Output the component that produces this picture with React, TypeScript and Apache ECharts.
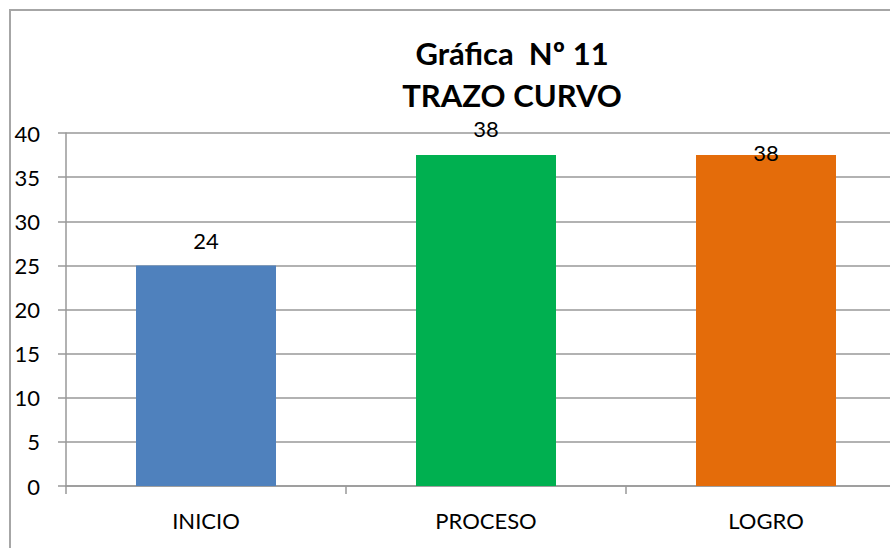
import React, { useEffect, useRef } from "react";
import * as echarts from "echarts";

const categories = ["INICIO", "PROCESO", "LOGRO"];
const values = [25, 37.5, 37.5];
const valueLabels = ["24", "38", "38"];
const barColors = ["#4F81BD", "#00B050", "#E46C0A"];
const labelDistances = [14, 16, -8];
const titleLines = ["Gráfica  Nº 11", "TRAZO CURVO"];

const FONT = "Lato, 'Open Sans', sans-serif";

export default function App() {
  const ref = useRef<HTMLDivElement>(null);
  useEffect(() => {
    document.body.style.margin = "0";
    const chart = echarts.init(ref.current!, null, { renderer: "svg" });
    chart.setOption({
      animation: false,
      backgroundColor: "#ffffff",
      textStyle: { fontFamily: FONT },
      title: {
        text: titleLines.join("\n"),
        left: 507,
        top: 27,
        textAlign: "center",
        textStyle: {
          fontFamily: FONT,
          fontSize: 31,
          fontWeight: "bold",
          color: "#000",
          lineHeight: 42,
        },
      },
      graphic: [
        {
          type: "rect",
          shape: { x: 10, y: 10, width: 1000, height: 1000 },
          style: { fill: "none", stroke: "#a6a6a6", lineWidth: 2 },
          silent: true,
        },
      ],
      grid: { left: 66, top: 133, width: 840, height: 353, containLabel: false },
      xAxis: {
        type: "category",
        data: categories,
        axisLine: { lineStyle: { color: "#999", width: 1.5 } },
        axisTick: { show: true, length: 8, alignWithLabel: false, lineStyle: { color: "#999", width: 1.5 } },
        axisLabel: { fontSize: 22, color: "#000", margin: 23, fontFamily: FONT },
      },
      yAxis: {
        type: "value",
        min: 0,
        max: 40,
        interval: 5,
        axisLine: { show: true, lineStyle: { color: "#999", width: 1.5 } },
        axisTick: { show: true, length: 8, lineStyle: { color: "#999", width: 1.5 } },
        axisLabel: { fontSize: 22, color: "#000", margin: 26, fontFamily: FONT },
        splitLine: { show: true, lineStyle: { color: "#999", width: 1.5 } },
      },
      series: [
        {
          type: "bar",
          barWidth: "50%",
          data: values.map((v, i) => ({
            value: v,
            itemStyle: { color: barColors[i] },
            label: {
              show: true,
              position: "top",
              distance: labelDistances[i],
              formatter: () => valueLabels[i],
              fontSize: 22,
              color: "#000",
              fontFamily: FONT,
            },
          })),
        },
      ],
    });
    return () => chart.dispose();
  }, []);
  return (
    <div style={{ position: "absolute", left: 0, top: 0, width: 890, height: 548, overflow: "hidden" }}>
      <div ref={ref} style={{ width: 940, height: 548 }} />
    </div>
  );
}
